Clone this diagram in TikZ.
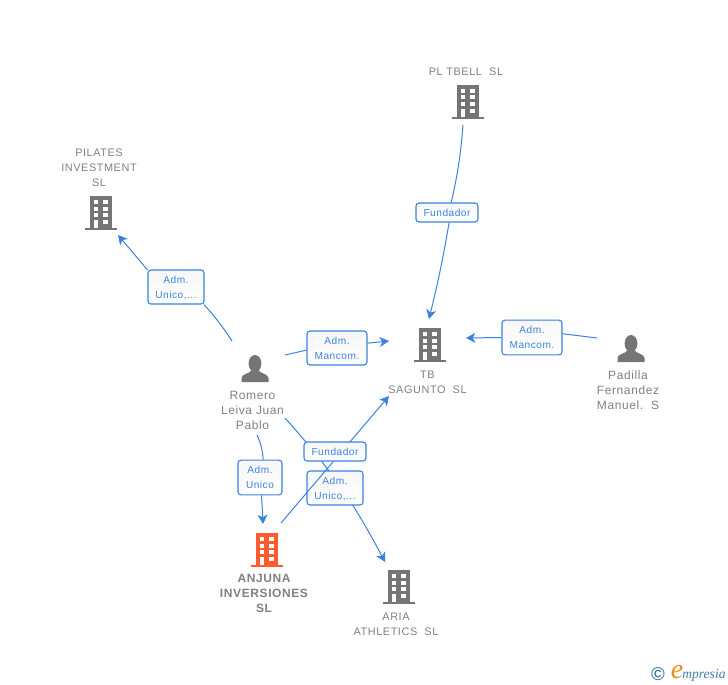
\documentclass[tikz,border=0pt]{standalone}
\usepackage{xcolor}
\usepackage{fontspec}
\setmainfont[LetterSpace=5]{Liberation Sans}
\newfontfamily\logofont{Liberation Serif}
\usetikzlibrary{arrows.meta, calc}

\definecolor{linkblue}{HTML}{3B82E0}
\definecolor{icongray}{HTML}{757575}
\definecolor{textgray}{HTML}{808080}
\definecolor{iconorange}{HTML}{FF5B2E}
\definecolor{logoblue}{HTML}{3F7F9F}
\definecolor{logoorange}{HTML}{F08A1D}

\tikzset{
  entity/.style={align=center, text=textgray, inner sep=0pt, font=\fontsize{9}{11.25}\selectfont},
  entitycaps/.style={entity, font=\fontsize{8.2}{11.25}\selectfont},
  role/.style={draw=linkblue, line width=0.8pt, rounded corners=2.2pt, top color=gray!7, bottom color=white,
    align=center, text=linkblue, inner sep=0pt, font=\fontsize{7.6}{11.25}\selectfont},
  link/.style={draw=linkblue, line width=0.75pt},
  linkto/.style={link, -{Stealth[length=7pt, width=7.5pt, inset=2pt]}},
  buildingicon/.pic={
    \fill[pic actions] (-11,0) rectangle (11,32);
    \fill[pic actions] (-16,31.5) rectangle (16,34);
    \foreach \rowy in {4,10.5,17} {
      \fill[white] (-7.5,\rowy) rectangle (-2.7,\rowy+4);
      \fill[white] (2,\rowy) rectangle (7,\rowy+4);
    }
    \fill[white] (-7.5,23.5) rectangle (-2.7,32);
    \fill[white] (2,23.5) rectangle (7,27.5);
  },
  personicon/.pic={
    \fill[icongray] (0,8.5) ellipse (6.4 and 8.5);
    \fill[icongray] (-13.5,27) -- (-13.5,23) .. controls (-13.5,19) and (-6,19) .. (-3,15)
      -- (3,15) .. controls (6,19) and (13.5,19) .. (13.5,23) -- (13.5,27) -- cycle;
  },
}

\begin{document}
\begin{tikzpicture}[x=0.75pt, y=-0.75pt]
\useasboundingbox (0,0) rectangle (728,685);

\pic[fill=icongray] at (468,85) {buildingicon};
\pic[fill=icongray] at (101,196) {buildingicon};
\pic[fill=icongray] at (430,328) {buildingicon};
\pic[fill=icongray] at (399,570) {buildingicon};
\pic[fill=iconorange] at (267,533) {buildingicon};
\pic at (255,355) {personicon};
\pic at (631,335) {personicon};

\node[entitycaps] (plTbell) at (466,72) {PL TBELL\ \ SL};
\node[entitycaps] (pilates) at (99,168) {PILATES\\INVESTMENT\\SL};
\node[entitycaps] (tbSagunto) at (427.5,382.5) {TB\\SAGUNTO\ \ SL};
\node[entity] (romero) at (252.5,410.5) {Romero\\Leiva Juan\\Pablo};
\node[entity] (padilla) at (628,390.5) {Padilla\\Fernandez\\Manuel.\ \ S};
\node[entity, font=\fontsize{9}{11.25}\selectfont\bfseries] (anjuna) at (264,593.5) {ANJUNA\\INVERSIONES\\SL};
\node[entitycaps] (aria) at (396,624.5) {ARIA\\ATHLETICS\ \ SL};

% free ends
\coordinate (plTbellS) at (463,125);
\coordinate (tbN) at (429,319);
\coordinate (tbE) at (466,338);
\coordinate (tbW) at (389,341);
\coordinate (tbSW) at (389,396);
\coordinate (pilatesSE) at (118,235);
\coordinate (romeroNW) at (232,341);
\coordinate (romeroE) at (285,355);
\coordinate (romeroS) at (257,435);
\coordinate (romeroSE) at (285,418);
\coordinate (padillaW) at (597,338);
\coordinate (anjunaN) at (263,524);
\coordinate (anjunaNE) at (281,523);
\coordinate (ariaN) at (385,562);

\draw[linkto] (romeroSE) to[bend left=7] (ariaN);

\node[role, minimum width=46.5pt, minimum height=14.25pt] (roleTbell) at (447,212.5) {Fundador};
\node[role, minimum width=42pt, minimum height=25.5pt] (rolePilates) at (176,287) {Adm.\\\smash{Unico,...}};
\node[role, minimum width=45pt, minimum height=25.5pt] (roleRomero) at (337,348) {Adm.\\Mancom.};
\node[role, minimum width=45pt, minimum height=26pt] (rolePadilla) at (532,337.5) {Adm.\\Mancom.};
\node[role, minimum width=33pt, minimum height=26pt] (roleAnjuna) at (260,477.5) {Adm.\\Unico};
\node[role, minimum width=42pt, minimum height=25.5pt] (roleAria) at (335,488) {Adm.\\\smash{Unico,...}};

\draw[linkto] (anjunaNE) -- (tbSW);
\node[role, minimum width=46.5pt, minimum height=14.25pt] (roleSagunto) at (335,451.5) {Fundador};

\draw[link] (plTbellS) to[bend left=4] (roleTbell.67);
\draw[linkto] (roleTbell.-78) to[bend left=2] (tbN);
\draw[link] (romeroNW) to[bend right=4] (rolePilates.-32);
\draw[linkto] (rolePilates.149) -- (pilatesSE);
\draw[link] (romeroE) -- (roleRomero.184);
\draw[linkto] (roleRomero.9) -- (tbW);
\draw[link] (padillaW) -- (rolePadilla.7);
\draw[linkto] (rolePadilla.180) -- (tbE);
\draw[link] (romeroS) to[bend left=10] (roleAnjuna.80);
\draw[linkto] (roleAnjuna.-85) -- (anjunaN);

% logo
\node[text=logoblue, inner sep=0pt, font=\fontsize{14}{14}\selectfont\bfseries] (logoC) at (658,674) {©};
\node[text=logoorange, inner sep=0pt, font=\fontsize{21}{21}\logofont\itshape] (logoE) at (677,672) {e};
\node[text=logoblue, inner sep=0pt, anchor=west, font=\fontsize{10.2}{12}\logofont\itshape] (logoName) at (682,675) {mpresia};
\end{tikzpicture}
\end{document}
